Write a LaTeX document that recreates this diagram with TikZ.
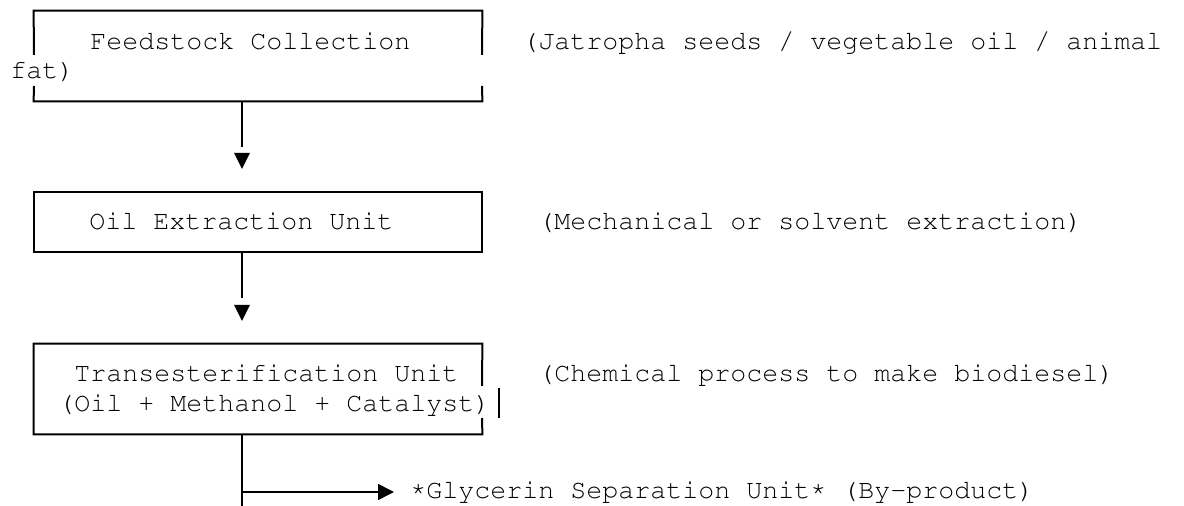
\documentclass[tikz,border=0pt]{standalone}
\usepackage[T1]{fontenc}
\usepackage{courier}
\usetikzlibrary{positioning}
\usetikzlibrary{arrows.meta}

\newcommand{\hiast}{\raisebox{1.7pt}{*}}

\tikzset{
  txt/.style={font=\ttfamily\fontsize{13.33pt}{15pt}\selectfont, inner sep=0pt, anchor=base west},
  unit/.style={minimum width=224pt, inner sep=0pt},
  frame/.style={black, line width=1pt},
  link/.style={black, line width=0.8pt},
  head/.style={black}
}

\begin{document}
\begin{tikzpicture}[x=0.5pt,y=-0.5pt]
\useasboundingbox (0,0) rectangle (1184,506);
%units
\node[unit, minimum height=45pt] (feed) at (258,56) {};
\node[unit, minimum height=30pt] (extract) at (258,222) {};
\node[unit, minimum height=45pt] (trans) at (258,389) {};
%frames
\draw[frame] (34,55) -- (feed.north west) -- (feed.north east) -- (482,55);
\draw[frame] (34,86) -- (feed.south west) -- (feed.south east) -- (482,86);
\draw[frame] (extract.north west) rectangle (extract.south east);
\draw[frame] (482,386) -- (trans.north east) -- (trans.north west) -- (trans.south west) -- (trans.south east) -- (482,418);
\draw[frame] (499,388) -- (499,418);
%texts
\node[txt] (feedtxt) at (90,49.5) {Feedstock Collection};
\node[txt] (feednote) at (522,49.5) {(Jatropha seeds / vegetable oil / animal};
\node[txt] (feedwrap) at (10,79) {fat)};
\node[txt] (extracttxt) at (89,230) {Oil Extraction Unit};
\node[txt] (extractnote) at (538,230) {(Mechanical or solvent extraction)};
\node[txt] (transtxt) at (74,382) {Transesterification Unit};
\node[txt] (transmix) at (58,412) {(Oil + Methanol + Catalyst)};
\node[txt] (transnote) at (538,382) {(Chemical process to make biodiesel)};
\node[txt] (glycerin) at (410,499) {\hiast Glycerin Separation Unit\hiast{} (By-product)};
%connectors
\coordinate (gap1) at (242,147);
\coordinate (gap2) at (242,298);
\coordinate (fork) at (242,492);
\coordinate (tail) at (242,506);
\draw[link] (feed.south -| gap1) -- (gap1);
\fill[head] ([yshift=-3pt]gap1) -- ++(-8,0) -- ++(8,16) -- ++(8,-16) -- cycle;
\draw[link] (extract.south -| gap1) -- (gap2);
\fill[head] ([yshift=-3.5pt]gap2) -- ++(-8,0) -- ++(8,16) -- ++(8,-16) -- cycle;
\draw[link] (trans.south -| gap1) -- (tail);
\draw[link, -{Triangle[length=8pt,width=8pt]}, shorten >=8pt] (fork) -- (fork -| glycerin.west);

\end{tikzpicture}
\end{document}
